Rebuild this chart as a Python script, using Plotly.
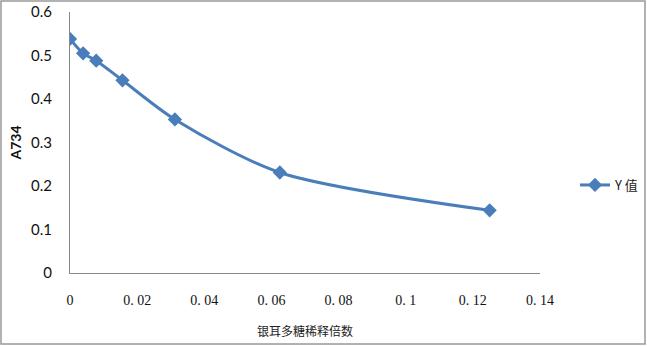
import plotly.graph_objects as go

# Data
dilution = [0, 0.00390625, 0.0078125, 0.015625, 0.03125, 0.0625, 0.125]
a734 = [0.538, 0.505, 0.488, 0.443, 0.353, 0.231, 0.144]
series_name = "Y 值"
x_tickvals = [0, 0.02, 0.04, 0.06, 0.08, 0.1, 0.12, 0.14]
x_ticktext = ["0", "0. 02", "0. 04", "0. 06", "0. 08", "0. 1", "0. 12", "0. 14"]
y_tickvals = [0, 0.1, 0.2, 0.3, 0.4, 0.5, 0.6]
y_ticktext = ["0", "0.1", "0.2", "0.3", "0.4", "0.5", "0.6"]

W, H = 647, 346
L, R, T, B = 70, 107, 12, 73
pw, ph = W - L - R, H - T - B

color = "#4A7EBB"

fig = go.Figure()
fig.add_trace(go.Scatter(
    x=dilution, y=a734, name=series_name, mode="lines+markers",
    line=dict(color=color, width=3, shape="spline", smoothing=0.8),
    marker=dict(symbol="diamond", size=11, color=color),
))

fig.update_layout(
    width=W, height=H,
    margin=dict(l=L, r=R, t=T, b=B, autoexpand=False),
    paper_bgcolor="white", plot_bgcolor="white",
    showlegend=True,
    legend=dict(x=(575 - L) / pw, y=(273 - 185) / ph, xanchor="left", yanchor="middle",
                font=dict(family="Noto Sans CJK SC", size=13, color="#222"),
                bgcolor="rgba(0,0,0,0)", itemwidth=30),
    xaxis=dict(range=[0, 0.14], tickvals=x_tickvals, ticktext=x_ticktext,
               showgrid=False, zeroline=False, showline=True, linecolor="#888", linewidth=1,
               ticks="", ticklabelstandoff=14, automargin=False,
               tickfont=dict(family="Liberation Serif", size=14, color="#111"),
               title=dict(text="银耳多糖稀释倍数", standoff=20,
                          font=dict(family="Noto Sans CJK SC", size=12, color="#222"))),
    yaxis=dict(range=[0, 0.6], tickvals=y_tickvals, ticktext=y_ticktext,
               showgrid=False, zeroline=False, showline=True, linecolor="#888", linewidth=1,
               ticks="", ticklabelstandoff=14, automargin=False,
               tickfont=dict(family="Lato", size=15, color="#111"),
               title=dict(text="<b>A734</b>", standoff=6,
                          font=dict(family="Lato", size=14, color="#111"))),
)

# outer border of chart area
fig.add_shape(type="rect", xref="paper", yref="paper",
              x0=(1 - L) / pw, x1=(W - 2 - L) / pw,
              y0=-(B - 2) / ph, y1=(H - 1 - B) / ph,
              line=dict(color="#999", width=1.5), fillcolor="rgba(0,0,0,0)", layer="below")

fig.write_html("out.html", config={"displayModeBar": False},
               post_script="document.body.style.margin='0';document.body.style.overflow='hidden';")
